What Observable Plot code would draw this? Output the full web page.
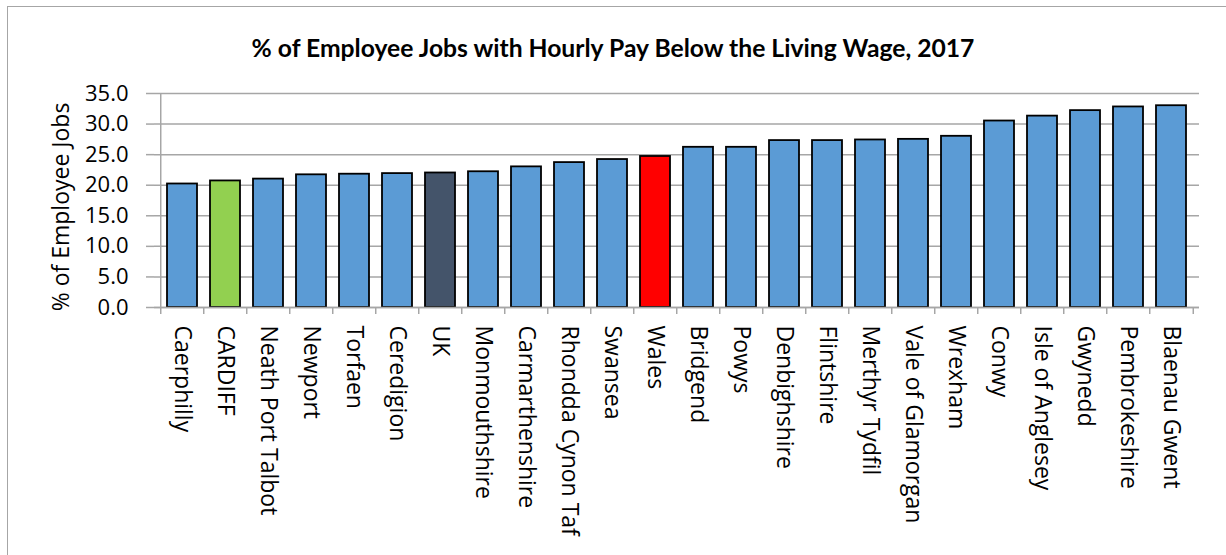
<!DOCTYPE html>
<html>
<head>
<meta charset="utf-8">
<script src="https://cdn.jsdelivr.net/npm/d3@7"></script>
<script src="https://cdn.jsdelivr.net/npm/@observablehq/plot@0.6"></script>
<style>
  html, body { margin: 0; padding: 0; background: #fff; }
  #wrap { position: relative; width: 1226px; height: 555px; overflow: hidden; background: #fff; }
  #frame { position: absolute; left: 7px; top: 6px; width: 1240px; height: 580px; border: 1.5px solid #a6a6a6; box-sizing: border-box; }
  #title { position: absolute; left: 613px; top: 48px; transform: translate(-50%, -50%); white-space: nowrap;
           font-family: "Lato", "Open Sans", sans-serif; font-weight: bold; font-size: 22px; color: #000; line-height: 1; }
  #ylabel { position: absolute; left: 60px; top: 207px; transform: translate(-50%, -50%) rotate(-90deg); white-space: nowrap;
            font-family: "Open Sans", sans-serif; font-size: 23px; color: #000; line-height: 1; }
  #chart { position: absolute; left: 0; top: 70px; }
</style>
</head>
<body>
<div id="wrap">
  <div id="frame"></div>
  <div id="chart"></div>
  <div id="title">% of Employee Jobs with Hourly Pay Below the Living Wage, 2017</div>
  <div id="ylabel">% of Employee Jobs</div>
</div>
<script>
const areas = ["Caerphilly","CARDIFF","Neath Port Talbot","Newport","Torfaen","Ceredigion","UK","Monmouthshire","Carmarthenshire","Rhondda Cynon Taf","Swansea","Wales","Bridgend","Powys","Denbighshire","Flintshire","Merthyr Tydfil","Vale of Glamorgan","Wrexham","Conwy","Isle of Anglesey","Gwynedd","Pembrokeshire","Blaenau Gwent"];
const values = [20.2,20.7,21.0,21.7,21.8,21.9,22.0,22.2,23.0,23.7,24.2,24.7,26.2,26.2,27.3,27.3,27.4,27.5,28.0,30.5,31.3,32.2,32.8,33.0];
const yTicks = [0,5,10,15,20,25,30,35];
const highlight = {"CARDIFF": "#92D050", "UK": "#44546A", "Wales": "#FF0000"};
const baseColor = "#5B9BD5";

const data = areas.map((a, i) => ({area: a, value: values[i]}));

const W = 1226, H = 485, ML = 154, MR = 27, MT = 23, MB = 248;
const step = (W - ML - MR) / areas.length;
const yPer = (H - MT - MB) / 35;
const tickLen = 7 / yPer;
const font = "'Open Sans', sans-serif";

const chart = Plot.plot({
  width: W, height: H,
  marginLeft: ML, marginRight: MR, marginTop: MT, marginBottom: MB,
  style: {fontFamily: font, background: "transparent", overflow: "visible"},
  x: {domain: areas, paddingInner: 0.3, paddingOuter: 0.15, axis: null},
  y: {domain: [0, 35], axis: null},
  marks: [
    Plot.gridY(yTicks, {stroke: "#a6a6a6", strokeOpacity: 1, strokeWidth: 1.5}),
    Plot.axisY(yTicks, {tickFormat: d3.format(".1f"), tickSize: 8, tickPadding: 18, fontSize: 22, fill: "#000", stroke: "#a6a6a6", strokeWidth: 1.5, label: null}),
    Plot.barY(data, {x: "area", y: "value", fill: d => highlight[d.area] || baseColor, stroke: "#000", strokeWidth: 1.8}),
    Plot.ruleX(areas, {x: d => d, y1: 0, y2: -tickLen, dx: -step / 2, stroke: "#a6a6a6", strokeWidth: 1.5}),
    Plot.ruleX([areas[areas.length - 1]], {x: d => d, y1: 0, y2: -tickLen, dx: step / 2, stroke: "#a6a6a6", strokeWidth: 1.5}),
    Plot.ruleX([areas[0]], {x: d => d, y1: 0, y2: 35, dx: -step / 2, stroke: "#a6a6a6", strokeWidth: 1.5}),
    Plot.ruleY([0], {stroke: "#a6a6a6", strokeWidth: 1.5}),
    Plot.text(areas, {x: d => d, y: 0, text: d => d, rotate: 90, textAnchor: "start", dy: 18, fontSize: 23, fill: "#000"})
  ]
});
document.getElementById("chart").appendChild(chart);

// fit title width to the reference's span
const t = document.getElementById("title");
const w = t.getBoundingClientRect().width;
if (w > 0) t.style.fontSize = (22 * 723 / w).toFixed(2) + "px";
</script>
</body>
</html>
